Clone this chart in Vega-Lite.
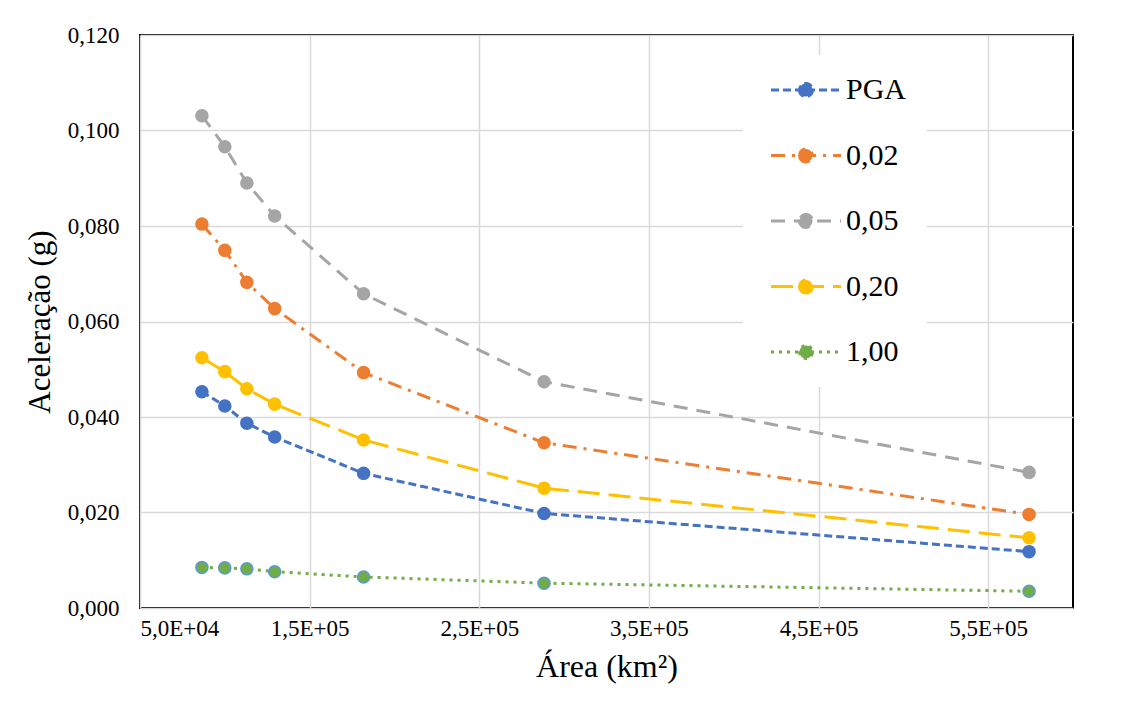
{
  "$schema": "https://vega.github.io/schema/vega-lite/v6.json",
  "width": 933,
  "height": 573,
  "autosize": {"type": "none"},
  "padding": {"left": 140, "top": 35, "right": 50, "bottom": 98},
  "background": "white",
  "config": {
    "locale": {"number": {"decimal": ",", "thousands": ".", "grouping": [3], "currency": ["", ""]}},
    "view": {"stroke": "black", "strokeWidth": 2},
    "font": "Liberation Serif",
    "axis": {
      "domain": false,
      "ticks": false,
      "grid": true,
      "gridColor": "#D9D9D9",
      "gridWidth": 1.5,
      "labelFont": "Liberation Serif",
      "labelFontSize": 23,
      "labelColor": "#000000",
      "titleFont": "Liberation Serif",
      "titleFontWeight": "normal",
      "titleColor": "#000000"
    }
  },
  "data": {
    "values": [
      {"area": 86500, "acel": 0.0453, "serie": "PGA"},
      {"area": 100000, "acel": 0.0423, "serie": "PGA"},
      {"area": 113000, "acel": 0.0387, "serie": "PGA"},
      {"area": 129400, "acel": 0.0358, "serie": "PGA"},
      {"area": 181800, "acel": 0.0282, "serie": "PGA"},
      {"area": 288200, "acel": 0.0198, "serie": "PGA"},
      {"area": 574100, "acel": 0.0118, "serie": "PGA"},
      {"area": 86500, "acel": 0.0804, "serie": "0,02"},
      {"area": 100000, "acel": 0.0749, "serie": "0,02"},
      {"area": 113000, "acel": 0.0682, "serie": "0,02"},
      {"area": 129400, "acel": 0.0627, "serie": "0,02"},
      {"area": 181800, "acel": 0.0493, "serie": "0,02"},
      {"area": 288200, "acel": 0.0346, "serie": "0,02"},
      {"area": 574100, "acel": 0.0196, "serie": "0,02"},
      {"area": 86500, "acel": 0.1031, "serie": "0,05"},
      {"area": 100000, "acel": 0.0966, "serie": "0,05"},
      {"area": 113000, "acel": 0.0890, "serie": "0,05"},
      {"area": 129400, "acel": 0.0821, "serie": "0,05"},
      {"area": 181800, "acel": 0.0658, "serie": "0,05"},
      {"area": 288200, "acel": 0.0474, "serie": "0,05"},
      {"area": 574100, "acel": 0.0284, "serie": "0,05"},
      {"area": 86500, "acel": 0.0524, "serie": "0,20"},
      {"area": 100000, "acel": 0.0495, "serie": "0,20"},
      {"area": 113000, "acel": 0.0459, "serie": "0,20"},
      {"area": 129400, "acel": 0.0427, "serie": "0,20"},
      {"area": 181800, "acel": 0.0352, "serie": "0,20"},
      {"area": 288200, "acel": 0.0251, "serie": "0,20"},
      {"area": 574100, "acel": 0.0147, "serie": "0,20"},
      {"area": 86500, "acel": 0.0085, "serie": "1,00"},
      {"area": 100000, "acel": 0.0084, "serie": "1,00"},
      {"area": 113000, "acel": 0.0082, "serie": "1,00"},
      {"area": 129400, "acel": 0.0076, "serie": "1,00"},
      {"area": 181800, "acel": 0.0065, "serie": "1,00"},
      {"area": 288200, "acel": 0.0052, "serie": "1,00"},
      {"area": 574100, "acel": 0.0035, "serie": "1,00"}
    ]
  },
  "encoding": {
    "x": {
      "field": "area",
      "type": "quantitative",
      "scale": {"domain": [50000, 600000], "nice": false, "zero": false},
      "axis": {
        "title": "Área (km²)",
        "values": [50000, 150000, 250000, 350000, 450000, 550000],
        "format": ".1e",
        "labelExpr": "upper(replace(datum.label, regexp('e[+]([0-9])$'), 'e+0$1'))",
        "labelFont": "Liberation Serif",
        "labelFontSize": 23,
        "labelPadding": 9,
        "titleFont": "Liberation Serif",
        "titleFontSize": 32,
        "titlePadding": 11
      }
    },
    "y": {
      "field": "acel",
      "type": "quantitative",
      "scale": {"domain": [0, 0.12], "nice": false},
      "axis": {
        "title": "Aceleração (g)",
        "values": [0, 0.02, 0.04, 0.06, 0.08, 0.1, 0.12],
        "format": ".3f",
        "labelFont": "Liberation Serif",
        "labelFontSize": 23,
        "labelPadding": 21,
        "titleFont": "Liberation Serif",
        "titleFontSize": 31,
        "titlePadding": 11
      }
    }
  },
  "layer": [
    {
      "mark": {"type": "line", "strokeWidth": 3},
      "encoding": {
        "color": {
          "field": "serie",
          "type": "nominal",
          "scale": {
            "domain": ["PGA", "0,02", "0,05", "0,20", "1,00"],
            "range": ["#4472C4", "#ED7D31", "#A5A5A5", "#FFC000", "#70AD47"]
          },
          "legend": {
            "title": null,
            "orient": "none",
            "legendX": 603,
            "legendY": 20,
            "padding": 20,
            "fillColor": "white",
            "strokeColor": null,
            "labelFont": "Liberation Serif",
            "labelFontSize": 30,
            "labelColor": "#000000",
            "labelOffset": 25,
            "labelLimit": 0,
            "rowPadding": 35.5,
            "symbolOffset": 28,
            "symbolType": "M-2.593,0H2.593M-0.481,0A0.481,0.481 0 1,0 0.481,0A0.481,0.481 0 1,0 -0.481,0Z",
            "symbolSize": 729,
            "symbolStrokeWidth": 3,
            "encode": {
              "symbols": {
                "update": {
                  "fill": {"scale": "color", "field": "value"},
                  "stroke": {"scale": "color", "field": "value"},
                  "strokeDash": {"scale": "strokeDash", "field": "value"},
                  "opacity": {"value": 1}
                }
              }
            }
          }
        },
        "strokeDash": {
          "field": "serie",
          "type": "nominal",
          "scale": {
            "domain": ["PGA", "0,02", "0,05", "0,20", "1,00"],
            "range": [[8, 4], [14, 7, 3, 7], [14, 9], [22, 9], [3, 5]]
          },
          "legend": null
        }
      }
    },
    {
      "mark": {"type": "point", "filled": true, "size": 145, "opacity": 1, "strokeWidth": 1.5},
      "encoding": {
        "color": {
          "field": "serie",
          "type": "nominal",
          "scale": {
            "domain": ["PGA", "0,02", "0,05", "0,20", "1,00"],
            "range": ["#4472C4", "#ED7D31", "#A5A5A5", "#FFC000", "#70AD47"]
          },
          "legend": null
        },
        "stroke": {
          "field": "serie",
          "type": "nominal",
          "scale": {
            "domain": ["PGA", "0,02", "0,05", "0,20", "1,00"],
            "range": ["#4472C4", "#ED7D31", "#A5A5A5", "#FFC000", "#5B9BD5"]
          },
          "legend": null
        }
      }
    }
  ]
}
